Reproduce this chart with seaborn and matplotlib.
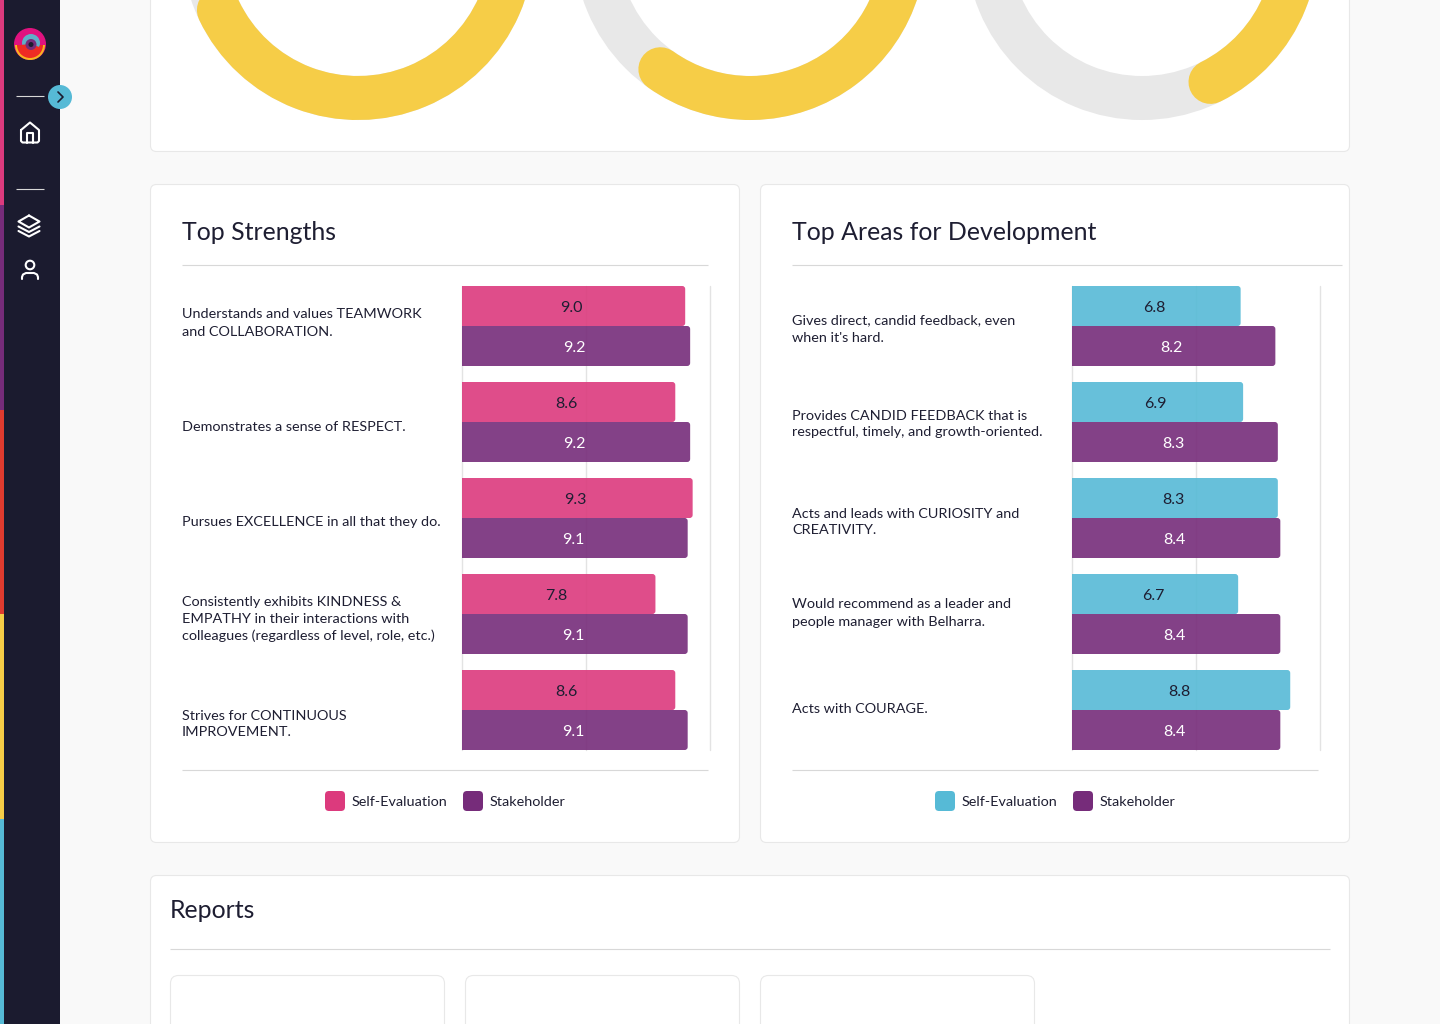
#!/usr/bin/env python3
"""Dashboard view: top strengths / development areas as paired bars."""

import numpy as np
import pandas as pd
import matplotlib.pyplot as plt
import seaborn as sns
from matplotlib.patches import Rectangle, FancyBboxPatch, Circle, Wedge, PathPatch
from matplotlib.path import Path
from matplotlib.transforms import Affine2D

# Data
strength_items = [
    "Understands and values TEAMWORK\nand COLLABORATION.",
    "Demonstrates a sense of RESPECT.",
    "Pursues EXCELLENCE in all that they do.",
    "Consistently exhibits KINDNESS &\nEMPATHY in their interactions with\ncolleagues (regardless of level, role, etc.)",
    "Strives for CONTINUOUS\nIMPROVEMENT.",
]
strength_self = [9.0, 8.6, 9.3, 7.8, 8.6]
strength_stake = [9.2, 9.2, 9.1, 9.1, 9.1]

develop_items = [
    "Gives direct, candid feedback, even\nwhen it's hard.",
    "Provides CANDID FEEDBACK that is\nrespectful, timely, and growth-oriented.",
    "Acts and leads with CURIOSITY and\nCREATIVITY.",
    "Would recommend as a leader and\npeople manager with Belharra.",
    "Acts with COURAGE.",
]
develop_self = [6.8, 6.9, 8.3, 6.7, 8.8]
develop_stake = [8.2, 8.3, 8.4, 8.4, 8.4]

gauge_centers = [358, 750, 1142]
gauge_start_deg = [154.6, 125.6, 63.6]

# Colours
PINK = "#DC3A7D"
PURPLE = "#762C7A"
BLUE = "#56BAD6"
YELLOW = "#F6CD47"
DARK = "#1B1B2F"
LINE = "#E3E3E3"
TEXT = "#1E1E32"

W, H = 1440, 1024
sns.set_theme(style="white")
plt.rcParams["font.family"] = ["Lato", "DejaVu Sans"]

fig = plt.figure(figsize=(W / 100, H / 100), dpi=100, facecolor="#F9F9F9")

# Overlay in pixel coordinates for the page furniture
page = fig.add_axes([0, 0, 1, 1], zorder=0)
page.set_xlim(0, W)
page.set_ylim(H, 0)
page.axis("off")


def px(points):
    return points * 0.72


def card(x0, y0, x1, y1, radius=6):
    page.add_patch(FancyBboxPatch((x0, y0), x1 - x0, y1 - y0,
                                  boxstyle=f"round,pad=0,rounding_size={radius}",
                                  fc="white", ec="#E8E8E8", lw=0.8))


def rule(x0, x1, y, color=LINE):
    page.plot([x0, x1], [y, y], color=color, lw=0.8, solid_capstyle="butt")


def stroke(verts, lw=1.5, closed=False, color="white"):
    verts = list(verts)
    if closed:
        verts = verts + [verts[0]]
    xs, ys = zip(*verts)
    page.plot(xs, ys, color=color, lw=lw, solid_capstyle="round", solid_joinstyle="round")


# Cards
card(150.5, -20, 1349.5, 151.5)
card(150.5, 184.5, 739.5, 842.5)
card(760.5, 184.5, 1349.5, 842.5)
card(150.5, 875.5, 1349.5, 1060)
for x0, x1 in [(170.5, 444.5), (465.5, 739.5), (760.5, 1034.5)]:
    card(x0, 975.5, x1, 1060, radius=8)

# Gauges
for cx, start in zip(gauge_centers, gauge_start_deg):
    tf = Affine2D().scale(154).translate(cx, -56) + page.transData
    page.add_patch(PathPatch(Path.arc(0, 360), transform=tf, fill=False,
                             ec="#E8E8E8", lw=px(44)))
    page.add_patch(PathPatch(Path.arc(-20, start), transform=tf, fill=False,
                             ec=YELLOW, lw=px(44), capstyle="round"))

# Sidebar
page.add_patch(Rectangle((0, 0), 60, H, fc=DARK, ec="none"))
for i, c in enumerate(["#DC3A7D", "#762C7A", "#DF3B2F", "#F6CD47", "#56BAD6"]):
    page.add_patch(Rectangle((0, i * H / 5), 4, H / 5, fc=c, ec="none"))
rule(16, 44, 96, "#D8D8D8")
rule(16, 44, 189, "#D8D8D8")

# Logo
page.add_patch(Circle((30, 44), 16, fc="#E0127F", ec="none"))
page.add_patch(Wedge((30, 45), 15, 0, 180, fc="#F6B81E", ec="none"))
page.add_patch(Wedge((30, 45), 13, 0, 180, fc="#EE2B24", ec="none"))
page.add_patch(Circle((31, 43), 9, fc="#5FAFC8", ec="none"))
page.add_patch(Wedge((31, 44), 9.5, 20, 175, fc="#EE2B24", ec="none"))
page.add_patch(Circle((31, 44.5), 5.5, fc="#762C7A", ec="none"))
page.add_patch(Circle((31, 44.5), 2.5, fc=DARK, ec="none"))

# Home icon
stroke([(21, 130), (30, 122.5), (39, 130), (39, 141), (37.5, 142.5), (22.5, 142.5), (21, 141)], closed=True)
stroke([(27, 142.5), (27, 133), (33, 133), (33, 142.5)])

# Layers icon
stroke([(29, 215.5), (39.5, 221.5), (29, 227.5), (18.5, 221.5)], closed=True)
stroke([(18.5, 226.5), (29, 232), (39.5, 226.5)])
stroke([(18.5, 231), (29, 236.5), (39.5, 231)])

# Person icon
page.add_patch(Circle((30, 265), 4.3, fc="none", ec="white", lw=1.5))
stroke([(22, 279), (22, 277), (23, 274.5), (26, 273), (34, 273), (37, 274.5), (38, 277), (38, 279)])

# Toggle, drawn on top of the sidebar edge
page.add_patch(Circle((60, 97), 12, fc=BLUE, ec="none", zorder=5))
page.plot([58, 63, 58], [92, 97, 102], color=DARK, lw=1.2, zorder=6)


def bar_panel(left, items, self_vals, stake_vals, self_color):
    """Paired horizontal bars in an axes 248 px wide, 464 px tall."""
    ax = fig.add_axes([left / W, 1 - 750 / H, 248 / W, 464 / H], zorder=1, facecolor="none")
    df = pd.DataFrame({
        "item": items * 2,
        "score": self_vals + stake_vals,
        "group": ["Self-Evaluation"] * 5 + ["Stakeholder"] * 5,
    })
    sns.barplot(data=df, y="item", x="score", hue="group", order=items,
                palette={"Self-Evaluation": self_color, "Stakeholder": PURPLE},
                width=80 / 96, gap=0, saturation=1, legend=False, ax=ax)
    ax.set_xlim(0, 10)
    ax.set_ylim(4 + 40 / 96, -40 / 96)
    ax.set_xticks([0, 5, 10])
    ax.set_yticks([])
    ax.set_xticklabels([])
    ax.set_xlabel("")
    ax.set_ylabel("")
    ax.set_axisbelow(True)
    ax.grid(axis="x", color=LINE, lw=1)
    for gl in ax.get_xgridlines():
        gl.set_clip_on(False)
    ax.tick_params(length=0)
    sns.despine(ax=ax, left=True, bottom=True)

    # small corners on the right end only, the left end is clipped by the axes
    r_x, r_y = 3 / 24.8, 3 / 96
    for cont, col in zip(ax.containers, [self_color, PURPLE]):
        for bar in cont:
            bar.set_visible(False)
            ax.add_patch(FancyBboxPatch(
                (-1, bar.get_y()), bar.get_width() + 1, bar.get_height(),
                boxstyle=f"round,pad=0,rounding_size={r_x}", mutation_aspect=r_y / r_x,
                fc=col, ec="none", alpha=0.9, zorder=3, clip_on=True))
    for cont, col in zip(ax.containers, [TEXT, "white"]):
        labels = ax.bar_label(cont, fmt="%.1f", label_type="center", color=col, fontsize=px(16), zorder=4)
        for t in labels:
            t.set_zorder(4)
            t.xyann = (px(-2), px(-2))
    return ax


bar_panel(462, strength_items, strength_self, strength_stake, PINK)
bar_panel(1072, develop_items, develop_self, develop_stake, BLUE)

# Card headers and rules
page.text(182, 232.5, "Top Strengths", fontsize=px(24.9), color=TEXT, va="center")
page.text(792, 232.5, "Top Areas for Development", fontsize=px(24.9), color=TEXT, va="center")
page.text(170, 911, "Reports", fontsize=px(24.9), color=TEXT, va="center")
rule(182, 708, 265, "#D8D8D8")
rule(792, 1342, 265, "#D8D8D8")
rule(182, 708, 770, "#D8D8D8")
rule(792, 1318, 770, "#D8D8D8")
rule(170, 1330, 949, "#D8D8D8")

# Row labels
strength_label_y = [323, 427, 522, 619, 724]
develop_label_y = [329, 424, 522, 613, 709]
for items, x, ys in [(strength_items, 182, strength_label_y), (develop_items, 792, develop_label_y)]:
    for label, y in zip(items, ys):
        page.text(x, y, label, fontsize=px(14.4), color=TEXT, va="center", linespacing=1.5)

# Legends
for sw1, col1 in [(325, PINK), (935, BLUE)]:
    page.add_patch(FancyBboxPatch((sw1, 791), 20, 20, boxstyle="round,pad=0,rounding_size=4", fc=col1, ec="none"))
    page.text(sw1 + 27, 802, "Self-Evaluation", fontsize=px(14.4), color=TEXT, va="center")
    page.add_patch(FancyBboxPatch((sw1 + 138, 791), 20, 20, boxstyle="round,pad=0,rounding_size=4", fc=PURPLE, ec="none"))
    page.text(sw1 + 165, 802, "Stakeholder", fontsize=px(14.4), color=TEXT, va="center")

fig.savefig("out.png", dpi=100, facecolor=fig.get_facecolor())
